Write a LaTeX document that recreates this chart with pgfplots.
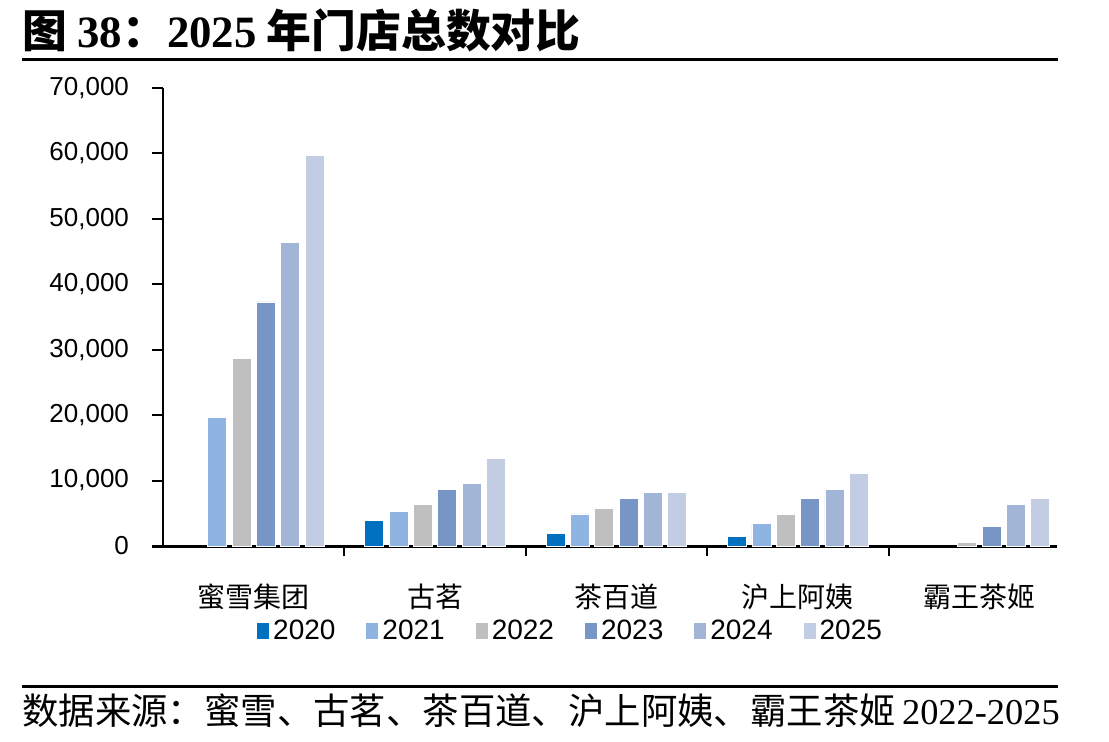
\documentclass[border=0pt]{standalone}
\usepackage{pgfplots}
\pgfplotsset{compat=1.18}
\usepackage{fontspec}
\setmainfont{Liberation Sans}
\newfontfamily\cjk{Noto Sans CJK SC}
\newfontfamily\tnr{Liberation Serif}
\definecolor{c20}{HTML}{0070C0}
\definecolor{c21}{HTML}{8FB4E3}
\definecolor{c22}{HTML}{BFBFBF}
\definecolor{c23}{HTML}{7795C6}
\definecolor{c24}{HTML}{A2B5D7}
\definecolor{c25}{HTML}{C2CDE3}
\begin{document}
\begin{tikzpicture}[x=0.5pt,y=0.5pt]
\useasboundingbox (0,0) rectangle (1109,741);
% title
\node[anchor=west,inner sep=0pt] at (22,711) {\fontsize{22.4}{22.4}\selectfont\cjk\bfseries 图\ {\tnr\bfseries 38}：{\tnr\bfseries 2025} 年门店总数对比};
\draw[line width=1.5pt] (22,681) -- (1058,681);
\draw[line width=1.5pt] (22,55) -- (1058,55);
\node[anchor=west,inner sep=0pt] at (22,30) {\fontsize{18.2}{18.2}\selectfont\cjk 数据来源：蜜雪、古茗、茶百道、沪上阿姨、霸王茶姬\,{\tnr 2022-2025}};
\begin{axis}[at={(81.5pt,97.5pt)}, anchor=south west,
  width=447pt, height=229pt, scale only axis,
  ymin=0, ymax=70000, xmin=-0.5, xmax=4.428,
  axis x line*=bottom, axis y line*=left,
  x axis line style={line width=1.5pt, shorten <=-5.5pt, -},
  y axis line style={line width=1pt, -},
  ytick={0,10000,...,70000},
  scaled y ticks=false,
  /pgf/number format/fixed,
  /pgf/number format/1000 sep={,},
  /pgf/number format/assume math mode=true,
  yticklabel style={xshift=-8pt},
  tick label style={font=\fontsize{13}{13}\selectfont},
  y tick style={line width=1pt, black},
  major tick length=5.5pt, tick align=outside,
  xtick={0,1,2,3,4},
  xticklabels={蜜雪集团,古茗,茶百道,沪上阿姨,霸王茶姬},
  xticklabel style={font=\fontsize{14}{14}\selectfont\cjk, yshift=-10pt},
  x tick style={draw=none},
  extra x ticks={0.5,1.5,2.5,3.5},
  extra x tick labels={},
  extra x tick style={x tick style={draw=black, line width=1pt}, major tick length=5pt},
  ybar=2.67pt, bar width=9.5pt,
  every axis plot/.append style={draw=white, line width=0.4pt},
  legend columns=6,
  legend style={at={(0.457,-0.186)}, anchor=center, draw=none, fill=none,
    font=\fontsize{14}{14}\selectfont,
    /tikz/every even column/.append style={column sep=13.5pt}},
  legend image code/.code={\fill[#1,draw=none] (0pt,-4pt) rectangle (6pt,4pt);},
  clip=false,
]
\addplot[fill=c20] coordinates {(1,3900) (2,1950) (3,1450)};
\addplot[fill=c21] coordinates {(0,19700) (1,5300) (2,4900) (3,3400)};
\addplot[fill=c22] coordinates {(0,28700) (1,6300) (2,5800) (3,4850) (4,550)};
\addplot[fill=c23] coordinates {(0,37300) (1,8700) (2,7300) (3,7300) (4,2950)};
\addplot[fill=c24] coordinates {(0,46400) (1,9600) (2,8200) (3,8700) (4,6350)};
\addplot[fill=c25] coordinates {(0,59700) (1,13400) (2,8250) (3,11100) (4,7250)};
\legend{2020,2021,2022,2023,2024,2025}
\end{axis}
\end{tikzpicture}
\end{document}
